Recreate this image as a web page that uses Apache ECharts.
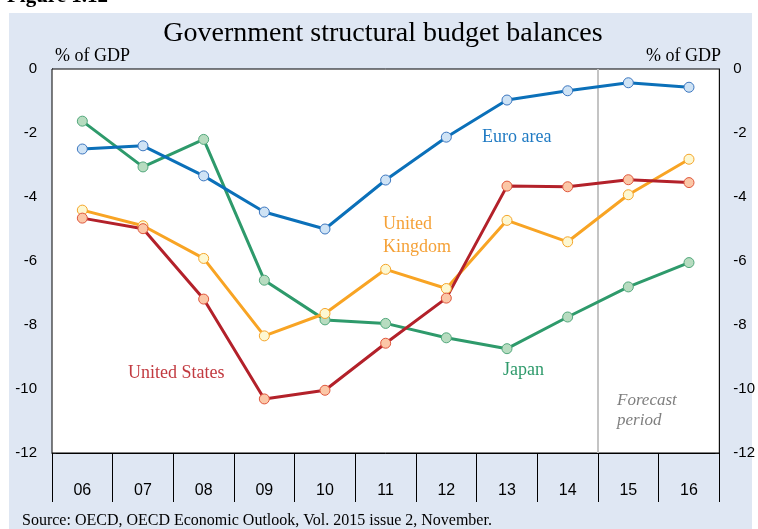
<!DOCTYPE html>
<html>
<head>
<meta charset="utf-8">
<script src="https://cdn.jsdelivr.net/npm/echarts@6/dist/echarts.min.js"></script>
<style>
html,body{margin:0;padding:0;background:#fff;}
#chart{width:758px;height:529px;}
</style>
</head>
<body>
<div id="chart"></div>
<script>
var years = ['06','07','08','09','10','11','12','13','14','15','16'];
var euroArea = [-2.50,-2.40,-3.34,-4.47,-5.00,-3.47,-2.13,-0.97,-0.68,-0.43,-0.57];
var japan = [-1.63,-3.06,-2.20,-6.60,-7.84,-7.95,-8.40,-8.74,-7.75,-6.81,-6.05];
var unitedKingdom = [-4.41,-4.90,-5.92,-8.34,-7.64,-6.26,-6.86,-4.73,-5.40,-3.93,-2.82];
var unitedStates = [-4.66,-4.99,-7.19,-10.31,-10.04,-8.57,-7.16,-3.66,-3.68,-3.46,-3.55];
var forecastStart = 8.5; // boundary between 14 and 15 (category index)
var yTicks = {min:-12, max:0, interval:2};

var serif = '"Liberation Serif","Times New Roman",serif';
var sans = '"Liberation Sans",Arial,sans-serif';

function lineSeries(name, data, lineColor, fill, border){
  return {
    name:name, type:'line', data:data, xAxisIndex:0, yAxisIndex:0,
    symbol:'circle', symbolSize:10,
    lineStyle:{color:lineColor,width:3},
    itemStyle:{color:fill,borderColor:border,borderWidth:1},
    emphasis:{disabled:true}, silent:true, animation:false, z:3
  };
}

var chart = echarts.init(document.getElementById('chart'), null, {renderer:'canvas'});
chart.setOption({
  animation:false,
  backgroundColor:'#ffffff',
  grid:{left:52,right:36,top:69,bottom:76,show:true,backgroundColor:'#ffffff',borderColor:'#000',borderWidth:1,z:1},
  xAxis:[{
    type:'category', data:years, boundaryGap:true, position:'bottom',
    axisLine:{show:true,onZero:false,lineStyle:{color:'#000',width:1}},
    axisTick:{show:true,interval:0,alignWithLabel:false,length:49,inside:false,lineStyle:{color:'#000',width:1}},
    axisLabel:{margin:30,interval:0,fontFamily:sans,fontSize:16,color:'#000'},
    splitLine:{show:false}
  },{
    type:'value', min:-0.5, max:10.5, show:false, position:'top',
    axisLine:{onZero:false}
  }],
  yAxis:[{
    type:'value', min:yTicks.min, max:yTicks.max, interval:yTicks.interval, position:'left',
    axisLine:{show:true,onZero:false,lineStyle:{color:'#000'}},
    axisTick:{show:true,inside:true,length:4,lineStyle:{color:'#333'}},
    axisLabel:{margin:15,fontFamily:sans,fontSize:15,color:'#000'},
    splitLine:{show:false}
  },{
    type:'value', min:yTicks.min, max:yTicks.max, interval:yTicks.interval, position:'right',
    axisLine:{show:true,onZero:false,lineStyle:{color:'#000'}},
    axisTick:{show:true,inside:true,length:4,lineStyle:{color:'#333'}},
    axisLabel:{margin:14,fontFamily:sans,fontSize:15,color:'#000'},
    splitLine:{show:false}
  }],
  series:[
    {
      name:'forecast', type:'line', xAxisIndex:1, yAxisIndex:0,
      data:[[forecastStart,yTicks.max],[forecastStart,yTicks.min]],
      symbol:'none', lineStyle:{color:'#c4c4c4',width:2}, silent:true, z:2
    },
    lineSeries('Japan', japan, '#2e9a6b', '#b7dcc0', '#52a87c'),
    lineSeries('United Kingdom', unitedKingdom, '#f8a424', '#fdf8d2', '#f5a52a'),
    lineSeries('United States', unitedStates, '#b3212a', '#fbc7a7', '#e0573d'),
    lineSeries('Euro area', euroArea, '#0b70b9', '#cfe3f5', '#3b76bf')
  ],
  graphic:[
    {type:'rect', z:-100, silent:true, shape:{x:9,y:13,width:743,height:516}, style:{fill:'#dfe7f3'}},
    {type:'text', z:10, silent:true, style:{x:7,y:7,text:'Figure 1.12',font:'bold 21px '+serif,fill:'#000',textAlign:'left',textVerticalAlign:'bottom'}},
    {type:'text', z:10, silent:true, style:{x:383,y:34,text:'Government structural budget balances',font:'28px '+serif,fill:'#000',textAlign:'center',textVerticalAlign:'middle'}},
    {type:'text', z:10, silent:true, style:{x:55,y:56,text:'% of GDP',font:'18px '+serif,fill:'#000',textAlign:'left',textVerticalAlign:'middle'}},
    {type:'text', z:10, silent:true, style:{x:721,y:56,text:'% of GDP',font:'18px '+serif,fill:'#000',textAlign:'right',textVerticalAlign:'middle'}},
    {type:'text', z:10, silent:true, style:{x:482,y:137,text:'Euro area',font:'18px '+serif,fill:'#1f7ac3',textAlign:'left',textVerticalAlign:'middle'}},
    {type:'text', z:10, silent:true, style:{x:383,y:236,text:'United\nKingdom',font:'18px '+serif,lineHeight:23,fill:'#f5a137',textAlign:'left',textVerticalAlign:'middle'}},
    {type:'text', z:10, silent:true, style:{x:128,y:373,text:'United States',font:'18px '+serif,fill:'#c23a40',textAlign:'left',textVerticalAlign:'middle'}},
    {type:'text', z:10, silent:true, style:{x:503,y:370,text:'Japan',font:'18px '+serif,fill:'#2e9a6b',textAlign:'left',textVerticalAlign:'middle'}},
    {type:'text', z:10, silent:true, style:{x:617,y:411,text:'Forecast\nperiod',font:'italic 17px '+serif,lineHeight:20,fill:'#7f7f7f',textAlign:'left',textVerticalAlign:'middle'}},
    {type:'text', z:10, silent:true, style:{x:22,y:521,text:'Source: OECD, OECD Economic Outlook, Vol. 2015 issue 2, November.',font:'16px '+serif,fill:'#000',textAlign:'left',textVerticalAlign:'middle'}}
  ]
});
</script>
</body>
</html>
